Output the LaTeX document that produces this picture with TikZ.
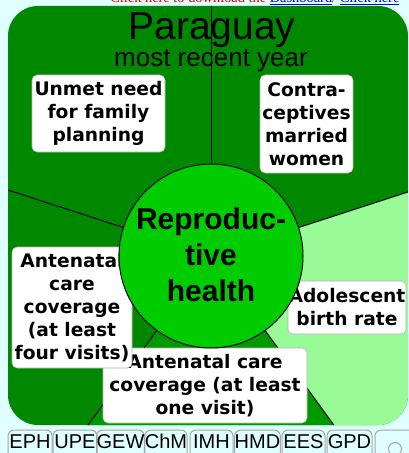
\documentclass[tikz,border=0pt]{standalone}
\usepackage{fontspec}
\setmainfont{Liberation Sans}
\newfontfamily\labfont{DejaVu Sans}
\newfontfamily\serfont{Liberation Serif}
\usetikzlibrary{calc}
\definecolor{bgc}{HTML}{E0FFFF}
\definecolor{dkg}{HTML}{008800}
\definecolor{btg}{HTML}{009900}
\definecolor{ltg}{HTML}{98FB98}
\definecolor{hubg}{HTML}{00CC00}
\definecolor{lnk}{HTML}{0000EE}
\definecolor{hdr}{HTML}{DD0000}
\tikzset{
  lbl/.style={draw=gray!60, fill=white, rounded corners=3.75pt, inner sep=0pt, align=center,
    font=\labfont\bfseries\fontsize{14}{17.25}\selectfont},
  spoke/.style={line width=0.75pt, black},
  btn/.style={draw=gray!70, line width=0.75pt, rounded corners=4.5pt, inner sep=0pt, anchor=base,
    text height=13.5pt, text depth=7.5pt, font=\fontsize{15}{18}\selectfont},
}
\begin{document}
\begin{tikzpicture}[x=0.75pt,y=-0.75pt]
\useasboundingbox (0,0) rectangle (409,453);
\fill[bgc] (0,0) rectangle (409,453);
% header link line (mostly cut off at the top edge)
\node[anchor=base west, inner sep=0pt, font=\serfont\fontsize{10.8}{13}\selectfont] (hdr) at (110,2.5)
  {{\color{hdr}Click here to download the }{\color{lnk}\underline{Dashboard}}{\color{hdr} / }{\color{lnk}\underline{Click here}}};
% geometry
\coordinate (C) at (211,256);
\coordinate (S90) at ($(C)+(-90:600)$);
\coordinate (S162) at ($(C)+(-162:600)$);
\coordinate (S234) at ($(C)+(-234:600)$);
\coordinate (S306) at ($(C)+(-306:600)$);
\coordinate (S18) at ($(C)+(-18:600)$);
\begin{scope}
  \clip[rounded corners=22.5pt] (8,6) rectangle (408,425);
  \fill[dkg] (0,0) rectangle (420,440);
  \fill[ltg] (C) -- (S18) -- (S306) -- cycle;
  \fill[btg] (C) -- (S306) -- (S234) -- cycle;
  \draw[spoke] (C) -- (S90);
  \draw[spoke] (C) -- (S162);
  \draw[spoke] (C) -- (S234);
  \draw[spoke] (C) -- (S306);
  \draw[spoke] (C) -- (S18);
\end{scope}
% title
\node[anchor=base, inner sep=0pt, font=\fontsize{29.25}{34}\selectfont] (title) at (212,40) {Paraguay};
\node[anchor=base, inner sep=0pt, font=\fontsize{19.5}{23}\selectfont] (sub) at (211,67) {most recent year};
% labels under the hub
\node[lbl, minimum width={118*0.75pt}, minimum height={53*0.75pt}] (adol) at (347,307.5)
  {Adolescent\\birth rate};
\node[lbl, minimum width={204*0.75pt}, minimum height={75*0.75pt}] (one) at (205,385.5)
  {Antenatal care\\coverage (at least\\one visit)};
\node[lbl, minimum width={120*0.75pt}, minimum height={121*0.75pt}] (four) at (72,307.5)
  {Antenatal\\care\\coverage\\(at least\\four visits)};
% hub
\node[circle, draw, line width=0.75pt, fill=hubg, minimum size={184*0.75pt}, inner sep=0pt] (hub) at (C) {};
\node[align=center, inner sep=0pt, font=\bfseries\fontsize{22.5}{27}\selectfont] (hubtxt) at (211,255)
  {Reproduc-\\tive\\health};
% other labels
\node[lbl, minimum width={133*0.75pt}, minimum height={77*0.75pt}] (unmet) at (98.5,113.5)
  {Unmet need\\for family\\planning};
\node[lbl, minimum width={93*0.75pt}, minimum height={98*0.75pt}] (contra) at (306.5,124)
  {Contra-\\ceptives\\married\\women};
% buttons
\node[btn, minimum width={44*0.75pt}] (b1) at (30,448) {EPH};
\node[btn, minimum width={44*0.75pt}] (b2) at (75,448) {UPE};
\node[btn, minimum width={45*0.75pt}] (b3) at (120.5,448) {GEW};
\node[btn, minimum width={42*0.75pt}] (b4) at (166,448) {ChM};
\node[btn, minimum width={43*0.75pt}] (b5) at (211.5,448) {IMH};
\node[btn, minimum width={45*0.75pt}] (b6) at (257.5,448) {HMD};
\node[btn, minimum width={43*0.75pt}] (b7) at (303.5,448) {EES};
\node[btn, minimum width={45*0.75pt}] (b8) at (349.5,448) {GPD};
\node[btn, minimum width={45*0.75pt}] (b9) at (397.5,448) {};
\node[circle, draw=gray!70, line width=0.75pt, minimum size={13*0.75pt}, inner sep=0pt] (radio) at (395,449) {};
\end{tikzpicture}
\end{document}
